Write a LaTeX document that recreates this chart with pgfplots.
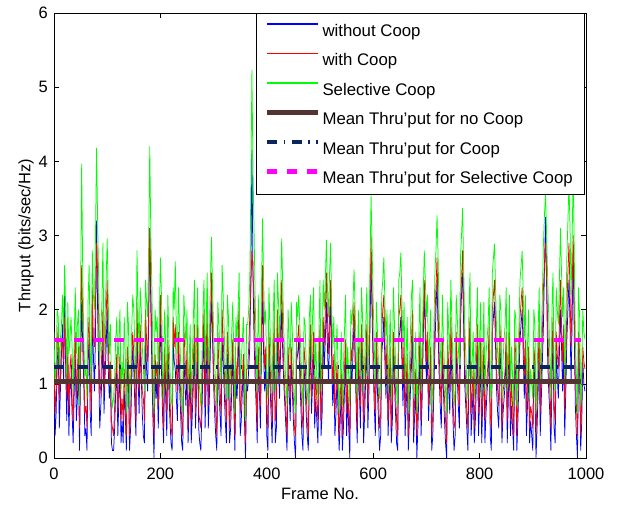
\documentclass[border=0pt]{standalone}
\usepackage{pgfplots}
\pgfplotsset{compat=1.18}
\usepackage{pgfplotstable}
\usepackage{fontspec}
\setmainfont{Liberation Sans}
\definecolor{mblue}{RGB}{0,0,255}
\definecolor{mred}{RGB}{255,0,0}
\definecolor{mgreen}{RGB}{0,255,0}
\definecolor{mmag}{RGB}{255,0,255}
\definecolor{mbrown}{RGB}{84,52,48}
\definecolor{mnavy}{RGB}{12,37,94}
\pgfplotstableread{
x b r g
0 1.2 1.4 1.7
2 0.3 0.6 1.0
4 0.6 0.9 1.3
6 1.3 1.5 2.0
8 1.5 1.8 1.9
10 0.4 0.8 1.2
12 0.9 1.1 1.6
14 1.4 1.6 1.8
16 1.8 1.6 2.2
18 1.0 1.3 1.7
20 2.2 1.9 2.6
22 1.2 1.5 2.0
24 0.5 0.8 1.0
26 1.3 1.5 2.1
28 0.3 0.6 1.4
30 0.9 1.2 1.6
32 1.1 1.4 1.9
34 0.6 0.8 1.5
36 0.2 0.5 0.9
38 0.9 1.3 1.6
40 1.4 1.7 2.3
42 0.5 0.8 1.4
44 0.8 1.2 1.8
46 1.3 1.5 2.0
48 0.1 0.4 0.7
50 1.2 1.6 2.2
52 2.1 2.6 3.97
54 1.5 1.9 2.5
56 1.0 1.3 1.6
58 0.3 0.6 1.1
60 0.4 0.7 1.2
62 0.1 0.4 0.8
64 1.3 1.6 2.1
66 1.6 1.9 2.6
68 0.6 1.1 1.5
70 0.3 0.6 1.0
72 1.9 2.3 2.8
74 1.4 1.6 2.2
76 0.9 1.5 2.0
78 1.7 2.1 3.0
80 3.2 2.9 4.18
82 2.0 2.5 3.2
84 1.2 1.9 2.4
86 0.4 0.8 1.3
88 0.7 1.0 1.7
90 1.1 1.5 2.1
92 1.6 2.0 2.9
94 0.6 0.9 1.4
96 1.1 1.4 1.9
98 1.5 1.9 2.4
100 2.0 2.4 2.96
102 1.2 1.6 2.1
104 0.8 1.0 1.4
106 1.1 1.3 1.8
108 0.2 0.5 0.9
110 0.1 0.4 0.7
112 0.1 0.3 0.8
114 0.4 0.7 1.1
116 0.9 1.1 1.6
118 1.2 1.4 1.9
120 0.3 0.6 1.2
122 0.8 1.0 1.6
124 1.2 1.4 2.0
126 0.2 0.5 0.9
128 0.5 0.8 1.3
130 0.2 0.5 1.0
132 0.9 1.2 1.9
134 0.6 0.8 1.4
136 0.1 0.3 0.6
138 1.3 1.5 2.1
140 1.0 1.3 1.8
142 0.1 0.3 0.7
144 0.4 0.6 1.1
146 1.0 1.3 1.7
148 1.5 1.7 2.2
150 1.2 1.4 2.0
152 0.7 1.0 1.5
154 0.3 0.5 1.0
156 1.8 2.1 2.8
158 1.1 1.3 2.0
160 0.6 0.9 1.4
162 1.5 1.8 2.3
164 1.1 1.3 2.0
166 0.6 0.9 1.5
168 0.3 0.8 1.2
170 0.2 0.5 0.9
172 1.7 2.0 2.4
174 1.2 1.6 2.1
176 0.9 1.3 1.9
178 1.9 2.0 2.9
180 3.1 3.1 4.2
182 2.0 2.3 3.0
184 1.2 1.6 2.3
186 0.5 0.8 1.3
188 0.0 0.3 0.6
190 1.2 1.4 2.0
192 0.8 1.1 1.7
194 1.1 1.3 1.9
196 0.4 0.7 1.0
198 1.1 1.4 1.9
200 1.9 2.2 2.7
202 1.2 1.6 2.2
204 0.6 0.9 1.3
206 0.2 0.4 0.8
208 1.3 1.5 2.0
210 0.8 1.0 1.5
212 0.3 0.6 0.9
214 1.4 1.6 2.2
216 0.9 1.2 1.6
218 0.5 0.8 1.2
220 0.2 0.4 0.8
222 0.1 0.3 0.7
224 1.6 1.9 2.3
226 1.3 1.5 2.0
228 1.2 1.8 2.65
230 0.8 1.2 1.7
232 0.5 0.9 1.4
234 1.5 1.7 2.3
236 1.0 1.2 1.7
238 0.6 0.9 1.3
240 0.2 0.5 0.8
242 0.1 0.3 0.6
244 1.4 1.8 2.2
246 1.0 1.4 1.9
248 0.7 1.0 1.5
250 1.2 1.5 2.0
252 0.2 0.4 0.9
254 0.7 0.9 1.3
256 1.1 1.4 1.8
258 0.2 0.5 0.8
260 0.6 0.8 1.3
262 1.0 1.3 1.9
264 1.5 1.8 2.4
266 0.4 0.6 1.1
268 0.9 1.1 1.6
270 1.5 1.8 2.3
272 0.4 0.6 1.1
274 0.2 0.5 0.9
276 0.1 0.4 0.7
278 0.6 0.9 1.3
280 1.2 1.5 2.0
282 1.8 2.0 2.4
284 0.4 0.7 1.2
286 1.0 1.4 1.8
288 1.7 2.0 2.5
290 0.4 0.7 1.1
292 0.8 1.1 1.6
294 1.5 1.8 2.4
296 2.2 2.5 2.98
298 1.6 1.8 2.3
300 1.0 1.2 1.7
302 0.6 0.9 1.3
304 0.3 0.6 1.0
306 0.1 0.3 0.7
308 1.3 1.7 2.1
310 0.9 1.2 1.8
312 0.6 0.9 1.4
314 0.3 0.6 1.0
316 1.6 2.0 2.6
318 1.3 1.6 2.2
320 0.9 1.2 1.7
322 0.5 0.8 1.2
324 0.2 0.5 0.8
326 1.4 1.7 2.2
328 1.1 1.4 1.9
330 0.2 0.4 0.8
332 0.4 0.7 1.2
334 0.9 1.2 1.7
336 1.4 1.6 2.1
338 0.7 1.0 1.4
340 0.1 0.3 0.6
342 1.1 1.3 1.9
344 0.8 1.0 1.6
346 1.2 1.6 2.0
348 1.8 2.1 2.5
350 0.3 0.6 1.0
352 0.5 0.8 1.3
354 0.9 1.1 1.6
356 1.2 1.4 1.9
358 0.5 0.8 1.2
360 0.0 0.2 0.5
362 1.0 1.2 1.8
364 0.9 1.2 1.8
366 1.2 1.5 2.0
368 1.5 1.9 2.4
370 2.4 2.3 3.6
372 4.15 2.8 5.23
374 2.5 2.5 3.9
376 1.6 2.2 3.1
378 1.1 1.5 2.2
380 0.7 1.0 1.5
382 0.2 0.4 0.9
384 1.3 1.5 2.2
386 0.9 1.1 1.5
388 0.4 0.7 1.1
390 1.5 1.8 2.3
392 2.3 2.6 3.23
394 1.4 1.7 2.4
396 0.9 1.2 1.8
398 1.3 1.5 2.0
400 0.3 0.6 1.0
402 0.1 0.4 0.8
404 1.4 1.7 2.3
406 1.0 1.3 1.8
408 0.6 0.9 1.3
410 0.2 0.5 0.9
412 1.1 1.3 1.9
414 1.6 1.9 2.4
416 0.2 0.5 0.9
418 0.4 0.7 1.1
420 1.7 2.0 2.5
422 1.2 1.5 2.1
424 0.8 1.1 1.6
426 1.5 1.8 2.2
428 2.0 2.4 2.96
430 1.4 1.7 2.3
432 1.0 1.2 1.7
434 0.7 0.9 1.3
436 0.4 0.6 1.0
438 0.1 0.3 0.7
440 1.2 1.5 2.0
442 0.9 1.1 1.6
444 0.5 0.8 1.3
446 1.3 1.5 2.1
448 0.9 1.1 1.7
450 0.5 0.8 1.2
452 0.2 0.4 0.8
454 0.0 0.3 0.6
456 1.3 1.6 2.1
458 1.4 1.6 1.9
460 1.6 1.8 2.2
462 1.1 1.4 1.8
464 0.7 1.0 1.4
466 0.3 0.6 1.0
468 0.1 0.4 0.7
470 1.2 1.5 1.9
472 1.0 1.3 1.8
474 0.6 0.9 1.3
476 0.3 0.5 0.9
478 0.1 0.3 0.7
480 1.1 1.4 1.9
482 1.5 1.8 2.2
484 0.6 0.8 1.3
486 1.0 1.3 1.9
488 1.4 1.7 2.3
490 0.4 0.6 1.0
492 0.8 1.1 1.6
494 0.5 0.8 1.1
496 0.2 0.5 0.8
498 0.9 1.2 1.7
500 1.5 1.8 2.4
502 0.3 0.5 0.9
504 0.6 0.9 1.4
506 1.7 1.9 2.4
508 1.2 1.5 2.0
510 1.6 2.0 2.4
512 2.1 2.5 2.94
514 1.5 1.9 2.3
516 1.0 1.4 1.9
518 1.6 1.9 2.5
520 2.2 2.4 2.9
522 1.3 1.6 2.0
524 0.7 1.0 1.5
526 1.2 1.4 1.9
528 0.3 0.6 1.0
530 0.6 0.9 1.4
532 1.1 1.3 1.8
534 0.6 0.8 1.2
536 0.1 0.3 0.6
538 0.5 0.8 1.1
540 0.9 1.2 1.7
542 0.1 0.3 0.7
544 0.4 0.7 1.2
546 0.9 1.2 1.7
548 1.3 1.6 2.2
550 0.3 0.6 1.0
552 0.8 1.0 1.5
554 0.4 0.6 1.1
556 0.0 0.3 0.7
558 1.3 1.5 2.0
560 1.0 1.3 1.8
562 1.4 1.7 2.1
564 1.9 2.1 2.54
566 1.3 1.5 2.0
568 0.7 1.0 1.4
570 0.2 0.4 0.8
572 1.3 1.5 2.0
574 0.9 1.1 1.5
576 0.4 0.7 1.1
578 1.6 1.8 2.3
580 1.1 1.4 1.9
582 0.2 0.5 0.9
584 0.6 0.9 1.3
586 1.1 1.3 1.8
588 1.5 1.8 2.3
590 0.4 0.7 1.1
592 0.9 1.2 1.7
594 1.8 2.1 2.6
596 2.6 3.0 3.54
598 1.9 2.2 2.8
600 1.2 1.5 2.1
602 0.7 1.0 1.5
604 0.3 0.6 1.0
606 1.4 1.7 2.1
608 0.9 1.2 1.7
610 0.5 0.8 1.2
612 0.1 0.4 0.8
614 0.3 0.6 1.0
616 1.4 1.7 2.2
618 1.6 2.0 2.4
620 1.9 2.2 2.7
622 1.3 1.6 2.1
624 0.8 1.1 1.6
626 1.3 1.6 2.0
628 0.3 0.5 0.9
630 0.8 1.0 1.4
632 1.2 1.5 2.0
634 0.2 0.4 0.8
636 0.5 0.8 1.2
638 1.5 1.7 2.3
640 1.0 1.2 1.8
642 0.6 0.9 1.3
644 0.2 0.5 0.9
646 0.1 0.3 0.7
648 1.6 1.9 2.4
650 1.7 2.0 2.5
652 1.9 2.2 2.77
654 1.3 1.6 2.1
656 0.7 1.0 1.5
658 1.4 1.6 2.1
660 0.3 0.6 1.0
662 0.7 1.0 1.4
664 1.1 1.4 1.9
666 0.1 0.3 0.6
668 0.5 0.8 1.2
670 0.9 1.2 1.7
672 1.3 1.6 2.2
674 1.7 2.0 2.4
676 0.2 0.4 0.8
678 0.6 0.8 1.2
680 0.9 1.2 1.7
682 0.0 0.3 0.6
684 0.4 0.7 1.1
686 0.9 1.2 1.7
688 1.4 1.7 2.3
690 0.3 0.5 0.9
692 0.8 1.0 1.5
694 1.6 1.8 2.2
696 2.3 2.4 2.8
698 1.6 1.9 2.4
700 1.0 1.3 1.9
702 1.5 1.7 2.2
704 0.5 0.7 1.2
706 0.9 1.1 1.6
708 1.2 1.5 2.0
710 0.1 0.3 0.6
712 0.3 0.6 1.0
714 0.9 1.2 1.7
716 1.5 1.9 2.5
718 2.0 2.3 2.8
720 2.4 2.7 3.27
722 1.7 2.0 2.7
724 1.1 1.4 1.9
726 0.7 1.0 1.5
728 0.4 0.7 1.1
730 1.4 1.6 2.2
732 0.9 1.1 1.6
734 0.5 0.8 1.2
736 0.2 0.5 0.9
738 0.0 0.2 0.6
740 1.3 1.6 2.1
742 0.9 1.2 1.7
744 0.6 0.9 1.4
746 1.6 1.9 2.4
748 1.0 1.3 1.8
750 0.5 0.8 1.2
752 0.1 0.4 0.7
754 0.3 0.5 0.9
756 1.4 1.7 2.2
758 1.1 1.3 1.9
760 0.7 1.0 1.5
762 0.4 0.7 1.2
764 1.8 2.1 2.7
766 2.2 2.4 3.0
768 2.5 2.8 3.37
770 1.8 2.1 2.6
772 1.0 1.3 1.8
774 0.7 1.0 1.4
776 0.4 0.6 1.0
778 0.1 0.4 0.8
780 1.2 1.5 2.0
782 1.7 1.9 2.5
784 0.3 0.6 1.0
786 0.6 0.9 1.3
788 1.0 1.2 1.7
790 0.2 0.4 0.8
792 0.5 0.8 1.3
794 1.0 1.3 1.8
796 1.5 1.8 2.3
798 0.3 0.6 1.0
800 0.8 1.1 1.6
802 1.4 1.6 2.1
804 0.2 0.5 0.8
806 0.8 1.0 1.4
808 1.3 1.5 2.1
810 0.2 0.5 0.9
812 0.6 0.9 1.4
814 0.9 1.1 1.6
816 1.1 1.3 1.8
818 1.6 1.8 2.3
820 0.3 0.6 1.0
822 0.1 0.4 0.8
824 1.7 2.0 2.5
826 1.9 2.2 2.7
828 2.1 2.4 2.89
830 1.5 1.8 2.3
832 0.9 1.2 1.7
834 0.6 0.9 1.4
836 0.4 0.7 1.1
838 1.5 1.8 2.2
840 1.2 1.5 2.0
842 0.2 0.4 0.8
844 0.6 0.9 1.3
846 0.8 1.0 1.6
848 1.0 1.2 1.8
850 1.5 1.7 2.3
852 0.2 0.5 0.9
854 0.8 1.1 1.5
856 1.4 1.7 2.2
858 0.3 0.5 0.9
860 0.7 1.0 1.5
862 0.4 0.7 1.1
864 0.1 0.3 0.7
866 1.3 1.6 2.0
868 1.1 1.4 1.9
870 0.1 0.3 0.7
872 0.5 0.8 1.2
874 1.1 1.4 1.8
876 1.6 1.9 2.4
878 1.8 2.1 2.6
880 2.0 2.3 2.79
882 1.4 1.7 2.2
884 0.8 1.1 1.6
886 1.4 1.6 2.2
888 0.3 0.6 1.0
890 0.7 1.0 1.5
892 1.2 1.5 2.0
894 0.2 0.4 0.8
896 0.5 0.7 1.2
898 0.3 0.6 1.0
900 0.1 0.4 0.8
902 1.3 1.5 2.0
904 1.0 1.3 1.8
906 0.0 0.3 0.6
908 0.4 0.7 1.1
910 0.9 1.2 1.7
912 1.5 1.8 2.3
914 0.3 0.6 1.0
916 0.8 1.1 1.6
918 1.3 1.7 2.2
920 1.8 2.3 2.9
922 2.6 2.6 3.3
924 3.25 2.9 3.55
926 2.3 2.4 3.0
928 1.3 1.8 2.4
930 0.9 1.3 1.9
932 0.6 0.9 1.4
934 0.1 0.4 0.8
936 1.1 1.4 2.0
938 1.6 1.9 2.5
940 0.4 0.7 1.1
942 0.2 0.5 0.9
944 1.4 1.7 2.3
946 1.1 1.4 2.0
948 0.8 1.2 1.8
950 1.4 1.8 2.4
952 2.0 2.4 3.1
954 1.5 1.8 2.5
956 0.9 1.3 1.9
958 1.5 1.8 2.3
960 0.3 0.6 1.0
962 0.9 1.3 1.8
964 1.6 2.0 2.7
966 2.0 2.5 3.2
968 2.4 2.9 3.7
970 1.8 2.2 3.1
972 1.0 1.5 2.2
974 1.9 2.3 3.0
976 2.8 3.0 3.9
978 1.6 2.0 2.7
980 0.7 1.1 1.6
982 0.3 0.7 1.1
984 0.0 0.3 0.6
986 1.5 1.7 2.3
988 1.1 1.4 1.9
990 0.1 0.3 0.7
992 0.5 0.8 1.2
994 1.3 1.5 2.0
996 1.0 1.3 1.7
998 0.9 1.2 1.6
}\thrudata
\pgfplotstableread{
x y
0 1.03
990 1.03
}\meannone
\pgfplotstableread{
x y
0 1.23
990 1.23
}\meancoop
\pgfplotstableread{
x y
0 1.59
990 1.59
}\meansel
\newcommand{\fs}{\fontsize{16.5}{19.8}\selectfont}
\newcommand{\lfs}{\fontsize{16.8}{20}\selectfont}
\begin{document}
\begin{tikzpicture}
\begin{axis}[
  width=532pt, height=445pt, scale only axis,
  xmin=0, xmax=1000, ymin=0, ymax=6,
  xtick={0,200,400,600,800,1000},
  ytick={0,1,2,3,4,5,6},
  tick align=inside,
  major tick length=5pt,
  axis line style={line width=0.8pt},
  every tick/.style={black, line width=0.6pt},
  font=\fs,
  /pgf/number format/assume math mode=true,
  /pgf/number format/1000 sep={},
  xticklabel style={font=\fs, anchor=north, inner sep=0pt, yshift=-10pt},
  yticklabel style={font=\fs, anchor=east, inner sep=0pt, xshift=-6pt},
  xlabel={Frame No.},
  ylabel={Thruput (bits/sec/Hz)},
  xlabel style={font=\fs, at={(axis description cs:0.5,-0.081)}, anchor=center, inner sep=0pt},
  ylabel style={font=\fs, at={(axis description cs:-0.0526,0.5)}, anchor=center, inner sep=0pt},
  legend cell align=left,
  legend image code/.code={\draw[#1] (0pt,6pt) -- (51pt,6pt);},
  legend style={at={(0.9962,1)}, anchor=north east, font=\lfs,
    draw=black, fill=white,
    inner xsep=9pt, inner ysep=2pt,
    row sep=0pt, column sep=0pt,
    nodes={inner ysep=7pt, text height=14pt, text depth=1.5pt},
    /tikz/every odd column/.append style={inner xsep=0pt},
    /tikz/every even column/.append style={inner xsep=4.7pt}},
]
\addplot[color=mblue, line width=0.75pt, legend image code/.code={\draw[draw=mblue, line width=1.1pt] (0pt,6pt) -- (51pt,6pt);}] table[x=x, y=b] {\thrudata};
\addlegendentry{without Coop}
\addplot[color=mred, line width=0.75pt, legend image code/.code={\draw[draw=mred, line width=1.1pt] (0pt,6pt) -- (51pt,6pt);}] table[x=x, y=r] {\thrudata};
\addlegendentry{with Coop}
\addplot[color=mgreen, line width=0.75pt, legend image code/.code={\draw[draw=mgreen, line width=1.1pt] (0pt,6pt) -- (51pt,6pt);}] table[x=x, y=g] {\thrudata};
\addlegendentry{Selective Coop}
\addplot[color=mbrown, line width=4.5pt] table[x=x, y=y] {\meannone};
\addlegendentry{Mean Thru’put for no Coop}
\addplot[color=mnavy, line width=4.5pt, dash pattern=on 10pt off 6.5pt on 1.5pt off 6.3pt] table[x=x, y=y] {\meancoop};
\addlegendentry{Mean Thru’put for Coop}
\addplot[color=mmag, line width=4.5pt, dash pattern=on 10pt off 10pt] table[x=x, y=y] {\meansel};
\addlegendentry{Mean Thru’put for Selective Coop}
\end{axis}
\path ([shift={(-54pt,-47pt)}]current axis.south west) rectangle ([shift={(42pt,13pt)}]current axis.north east);
\end{tikzpicture}
\end{document}
